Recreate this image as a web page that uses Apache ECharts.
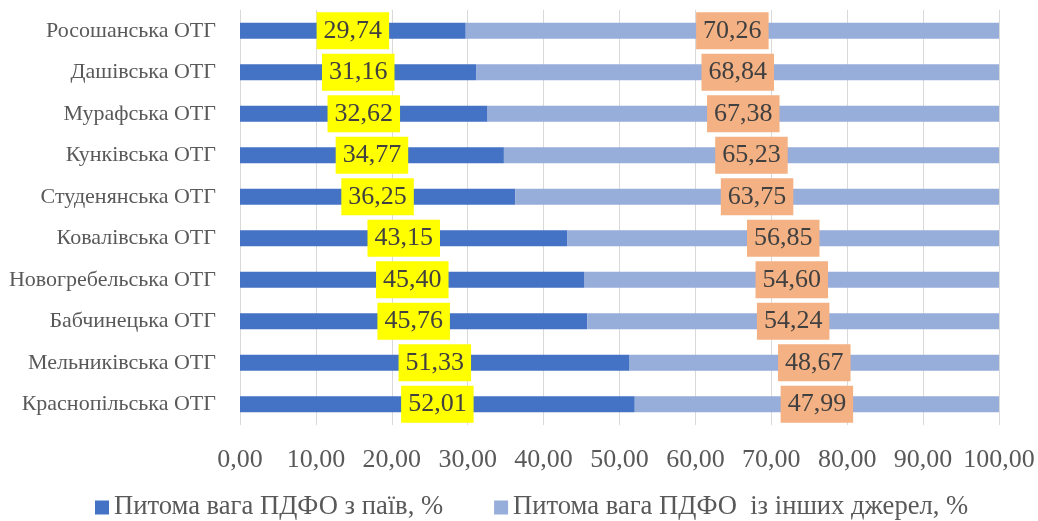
<!DOCTYPE html>
<html>
<head>
<meta charset="utf-8">
<script src="https://cdn.jsdelivr.net/npm/echarts@6/dist/echarts.min.js"></script>
<style>
html,body{margin:0;padding:0;background:#fff;}
#main{width:1038px;height:521px;}
</style>
</head>
<body>
<div id="main"></div>
<script>
// категорії зверху вниз
var otgNames=['Росошанська ОТГ','Дашівська ОТГ','Мурафська ОТГ','Кунківська ОТГ','Студенянська ОТГ',
    'Ковалівська ОТГ','Новогребельська ОТГ','Бабчинецька ОТГ','Мельниківська ОТГ','Краснопільська ОТГ'];
var sharePai=[29.74,31.16,32.62,34.77,36.25,43.15,45.40,45.76,51.33,52.01];
var shareOther=[70.26,68.84,67.38,65.23,63.75,56.85,54.60,54.24,48.67,47.99];
var seriesNames=['Питома вага ПДФО з паїв, %','Питома вага ПДФО  із інших джерел, %'];

var serif='"Liberation Serif","DejaVu Serif",serif';

function fmt(v){
    return v.toFixed(2).replace('.',',');
}

var chart=echarts.init(document.getElementById('main'));
var option={
    animation:false,
    textStyle:{fontFamily:serif},
    grid:{left:240,right:39,top:10,bottom:96,containLabel:false},
    legend:{
        top:494,
        left:95,
        padding:0,
        itemWidth:14,
        itemHeight:14,
        itemGap:51,
        icon:'rect',
        textStyle:{fontFamily:serif,fontSize:26.6,color:'#595959'},
        data:seriesNames
    },
    xAxis:{
        type:'value',
        min:0,
        max:100,
        interval:10,
        axisLine:{show:false},
        axisTick:{show:false},
        splitLine:{lineStyle:{color:'#D9D9D9',width:1}},
        axisLabel:{
            fontFamily:serif,fontSize:26,color:'#595959',margin:22,
            formatter:function(v){return fmt(v);}
        }
    },
    yAxis:{
        type:'category',
        inverse:true,
        data:otgNames,
        axisLine:{show:false},
        axisTick:{show:false},
        axisLabel:{fontFamily:serif,fontSize:22,color:'#595959',margin:24}
    },
    series:[
        {
            name:seriesNames[0],
            type:'bar',
            stack:'total',
            barWidth:16,
            data:sharePai,
            itemStyle:{color:'#4472C4'},
            label:{
                show:true,
                position:'inside',
                fontFamily:serif,
                fontSize:26,
                color:'#404040',
                backgroundColor:'#FFFF00',
                padding:[6,7,5,7],
                formatter:function(p){return fmt(p.value);}
            }
        },
        {
            name:seriesNames[1],
            type:'bar',
            stack:'total',
            barWidth:16,
            data:shareOther,
            itemStyle:{color:'#97ADDA'},
            label:{
                show:true,
                position:'inside',
                fontFamily:serif,
                fontSize:26,
                color:'#404040',
                backgroundColor:'#F4B183',
                padding:[6,7,5,7],
                formatter:function(p){return fmt(p.value);}
            }
        }
    ]
};
chart.setOption(option);
</script>
</body>
</html>
